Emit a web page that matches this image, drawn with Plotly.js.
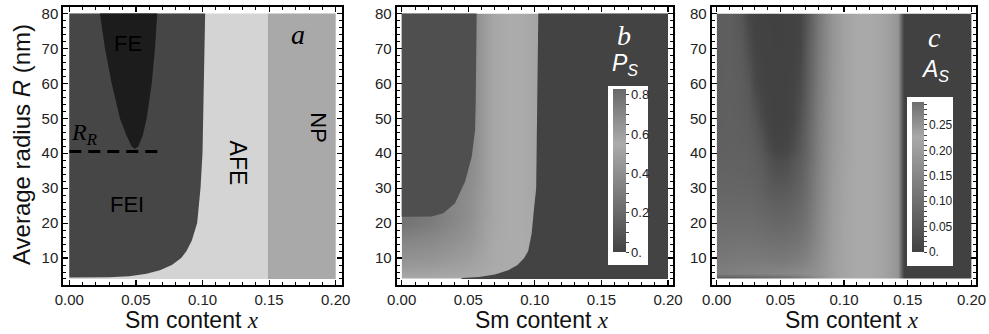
<!DOCTYPE html>
<html><head><meta charset="utf-8">
<script src="https://cdn.plot.ly/plotly-3.0.1.min.js"></script>
<style>html,body{margin:0;padding:0;background:#fff;}#chart{width:989px;height:334px;}</style>
</head><body><div id="chart"></div>
<script>
// ---------- Panel a: phase regions (x = Sm content, R = radius in nm) ----------
const afeRegionX = [0, 0.149, 0.149, 0];
const afeRegionR = [4, 4, 80, 80];
const npRegionX = [0.149, 0.2, 0.2, 0.149];
const npRegionR = [4, 4, 80, 80];
const feiBoundaryX = [0, 0.102, 0.101, 0.1, 0.0985, 0.096, 0.092, 0.088, 0.084, 0.077, 0.068, 0.058, 0.045, 0.03, 0];
const feiBoundaryR = [80, 80, 60, 40, 30, 20, 15, 12, 10, 8, 6.5, 5.5, 4.8, 4.5, 4.4];
const feBoundaryX = [0.023, 0.0268, 0.0318, 0.038, 0.043, 0.0468, 0.0493, 0.0518, 0.0551, 0.0581, 0.0619, 0.0643, 0.066];
const feBoundaryR = [80, 70, 60, 50, 45, 42, 41.2, 42, 45, 50, 60, 70, 80];
const rrLineX = [0, 0.07];
const rrLineR = [40.5, 40.5];

// ---------- Panel b: spontaneous polarization Ps ----------
const psX = [0, 0.02, 0.04, 0.05, 0.055, 0.06, 0.065, 0.07, 0.08, 0.09, 0.1, 0.105, 0.2];
const psR = [4, 5, 7, 10, 15, 20, 22, 25, 30, 40, 60, 80];
const psZ = [
  [0.54,0.54,0.55,0.55,0.55,0.55,0.55,0.55,0.55,0.55,0.55,0.55,0.55],
  [0.52,0.52,0.53,0.54,0.54,0.55,0.55,0.55,0.55,0.55,0.55,0.55,0.55],
  [0.47,0.48,0.50,0.51,0.52,0.53,0.54,0.55,0.55,0.55,0.55,0.55,0.55],
  [0.42,0.43,0.46,0.48,0.50,0.51,0.53,0.54,0.55,0.55,0.54,0.54,0.54],
  [0.35,0.37,0.41,0.44,0.46,0.49,0.52,0.54,0.55,0.55,0.54,0.54,0.54],
  [0.26,0.30,0.37,0.41,0.44,0.48,0.51,0.53,0.55,0.55,0.53,0.53,0.53],
  [0.25,0.29,0.36,0.40,0.43,0.47,0.50,0.53,0.55,0.55,0.53,0.53,0.53],
  [0.28,0.31,0.36,0.40,0.43,0.47,0.50,0.53,0.55,0.55,0.53,0.53,0.53],
  [0.30,0.32,0.36,0.39,0.42,0.46,0.50,0.53,0.55,0.55,0.52,0.52,0.52],
  [0.30,0.30,0.33,0.37,0.40,0.45,0.50,0.53,0.55,0.55,0.52,0.52,0.52],
  [0.30,0.30,0.33,0.36,0.39,0.45,0.50,0.53,0.55,0.55,0.52,0.52,0.52],
  [0.30,0.30,0.33,0.36,0.39,0.45,0.50,0.53,0.55,0.55,0.52,0.52,0.52]
];
const psZeroBoundaryX = [0.1026, 0.1015, 0.101, 0.0995, 0.0976, 0.095, 0.092, 0.087, 0.08, 0.07, 0.058, 0.045, 0.045, 0.2, 0.2];
const psZeroBoundaryR = [80, 50, 30, 24.6, 17, 12, 10, 8, 6.5, 5.3, 4.6, 4.25, 4, 4, 80];
const psLowBoundaryX = [0, 0.0563, 0.0556, 0.0551, 0.0526, 0.0475, 0.040, 0.0313, 0.0225, 0.01, 0];
const psLowBoundaryR = [80, 80, 55, 46.6, 39, 31.8, 25.7, 22.8, 21.9, 21.8, 21.8];
const psTickVals = [0,0.05,0.1,0.15,0.2,0.25,0.3,0.35,0.4,0.45,0.5,0.55,0.6,0.65,0.7,0.75,0.8];
const psTickText = ['0.','','','','0.2','','','','0.4','','','','0.6','','','','0.8'];

// ---------- Panel c: antipolar order As ----------
const asX = [0, 0.01, 0.02, 0.025, 0.03, 0.035, 0.04, 0.045, 0.05, 0.055, 0.06, 0.065, 0.07, 0.08, 0.09, 0.1, 0.11, 0.12, 0.13, 0.142, 0.147, 0.2];
const asR = [4, 5.5, 7, 10, 15, 20, 25, 30, 35, 38, 40, 42, 45, 50, 60, 70, 80];
const asZ = [
  [0.04,0.045,0.05,0.055,0.06,0.065,0.07,0.075,0.08,0.09,0.1,0.115,0.13,0.165,0.2,0.216,0.225,0.225,0.215,0.185,0,0],
  [0.13,0.134,0.138,0.14,0.142,0.144,0.146,0.148,0.15,0.152,0.155,0.16,0.165,0.18,0.2,0.216,0.225,0.225,0.215,0.185,0,0],
  [0.128,0.131,0.134,0.136,0.137,0.138,0.138,0.139,0.14,0.142,0.146,0.151,0.157,0.175,0.2,0.216,0.225,0.225,0.215,0.185,0,0],
  [0.118,0.12,0.122,0.123,0.123,0.122,0.121,0.12,0.12,0.122,0.126,0.132,0.14,0.168,0.2,0.216,0.225,0.225,0.215,0.185,0,0],
  [0.105,0.107,0.108,0.108,0.107,0.105,0.103,0.101,0.1,0.102,0.106,0.112,0.122,0.16,0.197,0.215,0.225,0.225,0.215,0.185,0,0],
  [0.095,0.096,0.096,0.096,0.094,0.091,0.088,0.085,0.084,0.086,0.09,0.098,0.11,0.155,0.195,0.215,0.225,0.225,0.215,0.185,0,0],
  [0.085,0.086,0.086,0.085,0.083,0.079,0.074,0.07,0.068,0.07,0.076,0.086,0.1,0.15,0.193,0.214,0.225,0.225,0.215,0.185,0,0],
  [0.078,0.079,0.078,0.077,0.074,0.068,0.06,0.054,0.052,0.055,0.063,0.075,0.092,0.147,0.192,0.213,0.225,0.225,0.215,0.185,0,0],
  [0.072,0.073,0.072,0.07,0.067,0.06,0.048,0.038,0.034,0.038,0.05,0.065,0.085,0.143,0.19,0.212,0.225,0.225,0.215,0.185,0,0],
  [0.07,0.071,0.07,0.068,0.064,0.055,0.042,0.03,0.026,0.03,0.044,0.06,0.08,0.141,0.189,0.211,0.225,0.225,0.215,0.185,0,0],
  [0.068,0.07,0.068,0.066,0.062,0.05,0.032,0.018,0.014,0.018,0.035,0.055,0.078,0.14,0.188,0.21,0.225,0.225,0.215,0.185,0,0],
  [0.067,0.069,0.067,0.064,0.059,0.045,0.022,0.01,0.007,0.011,0.026,0.05,0.075,0.139,0.187,0.21,0.225,0.225,0.215,0.185,0,0],
  [0.066,0.068,0.065,0.062,0.055,0.038,0.015,0.006,0.004,0.007,0.02,0.045,0.072,0.138,0.186,0.21,0.225,0.225,0.215,0.185,0,0],
  [0.064,0.067,0.063,0.058,0.045,0.02,0.006,0.003,0.002,0.004,0.01,0.035,0.065,0.135,0.185,0.21,0.225,0.225,0.215,0.185,0,0],
  [0.062,0.066,0.06,0.048,0.018,0.005,0.003,0.002,0.002,0.003,0.005,0.02,0.055,0.13,0.182,0.21,0.225,0.225,0.215,0.185,0,0],
  [0.061,0.065,0.055,0.028,0.007,0.003,0.002,0.001,0.001,0.002,0.003,0.01,0.048,0.125,0.18,0.21,0.225,0.225,0.215,0.185,0,0],
  [0.060,0.064,0.045,0.012,0.004,0.002,0.001,0.001,0.001,0.001,0.002,0.006,0.04,0.12,0.18,0.21,0.225,0.225,0.215,0.185,0,0]
];
const asTickVals = [0,0.01,0.02,0.03,0.04,0.05,0.06,0.07,0.08,0.09,0.1,0.11,0.12,0.13,0.14,0.15,0.16,0.17,0.18,0.19,0.2,0.21,0.22,0.23,0.24,0.25,0.26,0.27,0.28,0.29];
const asTickText = ['0.','','','','','0.05','','','','','0.10','','','','','0.15','','','','','0.20','','','','','0.25','','','',''];

const xTickVals = [0, 0.05, 0.1, 0.15, 0.2];
const yTickVals = [10, 20, 30, 40, 50, 60, 70, 80];

// ---------- styling ----------
const W = 989, H = 334;
const SANS = 'Liberation Sans, Arial, sans-serif';
const SERIF = 'Liberation Serif, Times New Roman, serif';
const yDom = [(H - 285) / H, (H - 7) / H];
const yRange = [2.28, 81.86];

function xAxis(domain, range, anchor) {
  return {domain, range, anchor, showline:true, linecolor:'#000', linewidth:2, mirror:'ticks',
    ticks:'inside', ticklen:5, tickwidth:1.2, tickcolor:'#000', showgrid:false, zeroline:false,
    tickvals:xTickVals, tickformat:'.2f', tickfont:{family:SANS, size:15, color:'#222'},
    minor:{ticks:'inside', ticklen:3, tickwidth:1, tickcolor:'#000', dtick:0.01, tick0:0, showgrid:false},
    fixedrange:true};
}
function yAxis(anchor) {
  return {domain:yDom, range:yRange, anchor, showline:true, linecolor:'#000', linewidth:2, mirror:'ticks',
    ticks:'inside', ticklen:5, tickwidth:1.2, tickcolor:'#000', showgrid:false, zeroline:false,
    tickvals:yTickVals, tickfont:{family:SANS, size:15, color:'#222'},
    minor:{ticks:'inside', ticklen:3, tickwidth:1, tickcolor:'#000', dtick:2, tick0:0, showgrid:false},
    fixedrange:true};
}
function poly(x, y, color, xa, ya) {
  return {type:'scatter', mode:'lines', x, y, fill:'toself', fillcolor:color,
    line:{width:0, color:color}, xaxis:xa, yaxis:ya, hoverinfo:'skip', showlegend:false};
}

const psScale = [[0,'#434343'],[0.55/0.83,'#ababab'],[1,'#686868']];
const asScale = [[0,'#414141'],[0.225/0.295,'#a9a9a9'],[1,'#6e6e6e']];

const traces = [
  poly(afeRegionX, afeRegionR, '#d4d4d4', 'x', 'y'),
  poly(npRegionX, npRegionR, '#a9a9a9', 'x', 'y'),
  poly(feiBoundaryX, feiBoundaryR, '#464646', 'x', 'y'),
  poly(feBoundaryX, feBoundaryR, '#1c1c1c', 'x', 'y'),
  {type:'scatter', mode:'lines', x:rrLineX, y:rrLineR, xaxis:'x', yaxis:'y',
    line:{color:'#000', width:3, dash:'12px,7px'}, hoverinfo:'skip', showlegend:false},
  {type:'contour', x:psX, y:psR, z:psZ, xaxis:'x2', yaxis:'y2', colorscale:psScale, zmin:0, zmax:0.83,
    contours:{coloring:'heatmap', showlines:false}, line:{width:0}, hoverinfo:'skip',
    colorbar:{x:613/W, xanchor:'left', y:1 - 170.5/H, yanchor:'middle', len:163, lenmode:'pixels',
      thickness:13, thicknessmode:'pixels', xpad:0, ypad:0, outlinewidth:0, bgcolor:'rgba(0,0,0,0)',
      ticks:'outside', ticklen:3, tickwidth:1, tickcolor:'#444', tickvals:psTickVals, ticktext:psTickText,
      tickfont:{family:SANS, size:13, color:'#222'}}},
  poly(psZeroBoundaryX, psZeroBoundaryR, '#434343', 'x2', 'y2'),
  poly(psLowBoundaryX, psLowBoundaryR, '#4f4f4f', 'x2', 'y2'),
  {type:'contour', x:asX, y:asR, z:asZ, xaxis:'x3', yaxis:'y3', colorscale:asScale, zmin:0, zmax:0.295,
    contours:{coloring:'heatmap', showlines:false}, line:{width:0}, hoverinfo:'skip',
    colorbar:{x:912/W, xanchor:'left', y:1 - 177/H, yanchor:'middle', len:150, lenmode:'pixels',
      thickness:12, thicknessmode:'pixels', xpad:0, ypad:0, outlinewidth:0, bgcolor:'rgba(0,0,0,0)',
      ticks:'outside', ticklen:3, tickwidth:1, tickcolor:'#444', tickvals:asTickVals, ticktext:asTickText,
      tickfont:{family:SANS, size:12, color:'#222'}}}
];

function ann(xref, yref, x, y, text, font, extra) {
  return Object.assign({xref, yref, x, y, text, font, showarrow:false, xanchor:'center', yanchor:'middle'}, extra || {});
}
const xTitle = 'Sm content <span style="font-family:Liberation Serif"><i>x</i></span>';
const annotations = [
  ann('x','y', 0.044, 71.5, 'FE', {family:SANS, size:22, color:'#000'}),
  ann('x','y', 0.043, 25.2, 'FEI', {family:SANS, size:22, color:'#000'}),
  ann('x','y', 0.1267, 37.3, 'AFE', {family:SANS, size:23, color:'#000'}, {textangle:90}),
  ann('x','y', 0.1875, 47.4, 'NP', {family:SANS, size:22, color:'#000'}, {textangle:90}),
  ann('x','y', 0.1717, 74.1, '<i>a</i>', {family:SERIF, size:28, color:'#000'}),
  ann('x','y', 0.011, 45.5, '<i>R</i><sub><i>R</i></sub>', {family:SERIF, size:24, color:'#000'}),
  ann('x2','y2', 0.167, 73.6, '<i>b</i>', {family:SERIF, size:28, color:'#fff'}),
  ann('x2','y2', 0.168, 65.5, '<i>P</i><sub><i>S</i></sub>', {family:SANS, size:23, color:'#fff'}),
  ann('x3','y3', 0.171, 73.1, '<i>c</i>', {family:SERIF, size:28, color:'#fff'}),
  ann('x3','y3', 0.171, 63.8, '<i>A</i><sub><i>S</i></sub>', {family:SANS, size:23, color:'#fff'}),
  ann('paper','paper', 192/W, 1 - 320/H, xTitle, {family:SANS, size:23, color:'#111'}),
  ann('paper','paper', 542/W, 1 - 320/H, xTitle, {family:SANS, size:23, color:'#111'}),
  ann('paper','paper', 852/W, 1 - 320/H, xTitle, {family:SANS, size:23, color:'#111'}),
  ann('paper','paper', 21/W, 1 - 145/H, 'Average radius <i>R</i> (nm)', {family:SANS, size:24, color:'#111'}, {textangle:-90})
];

const shapes = [
  {type:'rect', xref:'paper', yref:'paper', x0:608/W, x1:648/W, y0:1 - 265/H, y1:1 - 86/H, fillcolor:'#fff', line:{width:0}, layer:'above'},
  {type:'rect', xref:'paper', yref:'paper', x0:907/W, x1:953/W, y0:1 - 266/H, y1:1 - 97/H, fillcolor:'#fff', line:{width:0}, layer:'above'}
];

const layout = {
  width:W, height:H, margin:{l:0, r:0, t:0, b:0},
  paper_bgcolor:'#fff', plot_bgcolor:'#fff', showlegend:false,
  xaxis: xAxis([63.3/W, 341.7/W], [-0.0045, 0.2045], 'y'),
  yaxis: yAxis('x'),
  xaxis2: xAxis([396.7/W, 673/W], [-0.00375, 0.20375], 'y2'),
  yaxis2: yAxis('x2'),
  xaxis3: xAxis([711.7/W, 976/W], [-0.0039, 0.2035], 'y3'),
  yaxis3: yAxis('x3'),
  annotations, shapes
};

Plotly.newPlot('chart', traces, layout, {staticPlot:true, displayModeBar:false});
</script>
</body></html>
